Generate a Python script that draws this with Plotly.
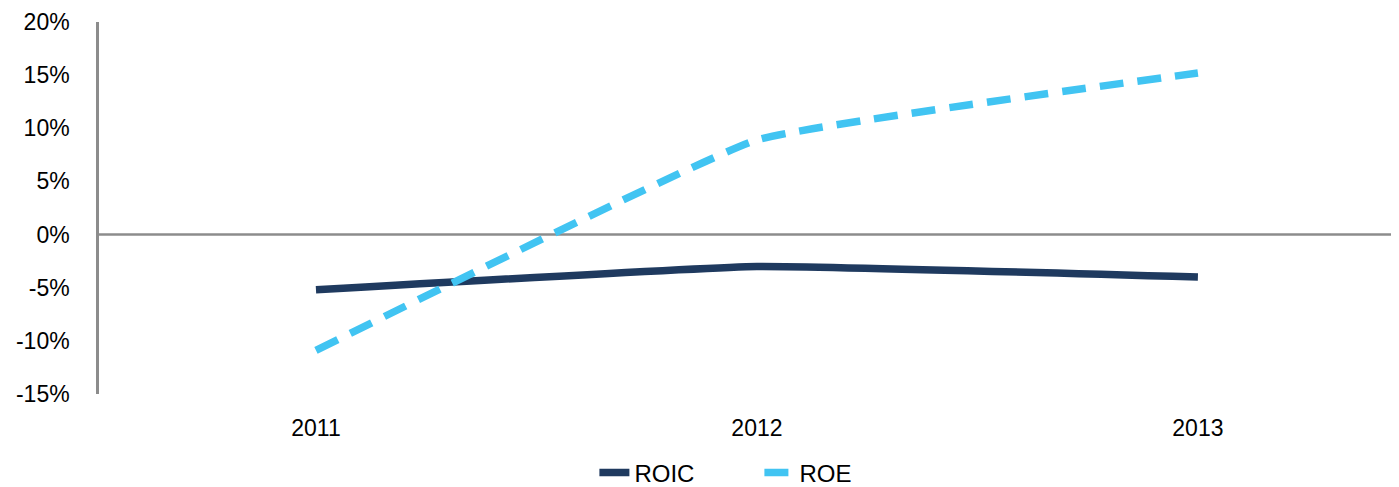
import plotly.graph_objects as go

years = ["2011", "2012", "2013"]
roic = [-5.2, -3.0, -4.0]
roe = [-10.9, 8.9, 15.2]
y_ticks = [-15, -10, -5, 0, 5, 10, 15, 20]
y_tick_labels = [f"{v}%" for v in y_ticks]

xpos = list(range(len(years)))

fig = go.Figure()
fig.add_trace(go.Scatter(
    x=xpos, y=roic, name="ROIC", mode="lines",
    line=dict(color="#1F3A5F", width=7.5, shape="spline", smoothing=0.3),
))
fig.add_trace(go.Scatter(
    x=xpos, y=roe, name="ROE", mode="lines",
    line=dict(color="#41C4F2", width=7.5, dash="24px,14px", shape="spline", smoothing=0.3),
))

fig.add_hline(y=0, line=dict(color="#8C8C8C", width=2.5), layer="below")

fig.update_layout(
    width=1391, height=479,
    margin=dict(l=91, r=0, t=14, b=93, autoexpand=False),
    plot_bgcolor="white", paper_bgcolor="white",
    font=dict(family="Liberation Sans, Arial, sans-serif", size=23, color="#000000"),
    showlegend=True,
    legend=dict(orientation="h", x=0.508, xanchor="center", y=-0.212, yanchor="middle",
                font=dict(size=24), entrywidth=120, entrywidthmode="pixels",
                tracegroupgap=0),
)
fig.update_xaxes(
    tickmode="array", tickvals=xpos, ticktext=years,
    range=[-0.492, 2.456], showgrid=False, zeroline=False, showline=False,
    ticks="", ticklabelstandoff=18, automargin=False,
)
fig.update_yaxes(
    tickmode="array", tickvals=y_ticks, ticktext=y_tick_labels,
    range=[-15, 20], showgrid=False, zeroline=False,
    showline=True, linecolor="#8C8C8C", linewidth=2.5,
    ticks="", ticklabelstandoff=22, automargin=False,
)

fig.write_html("out.html")
